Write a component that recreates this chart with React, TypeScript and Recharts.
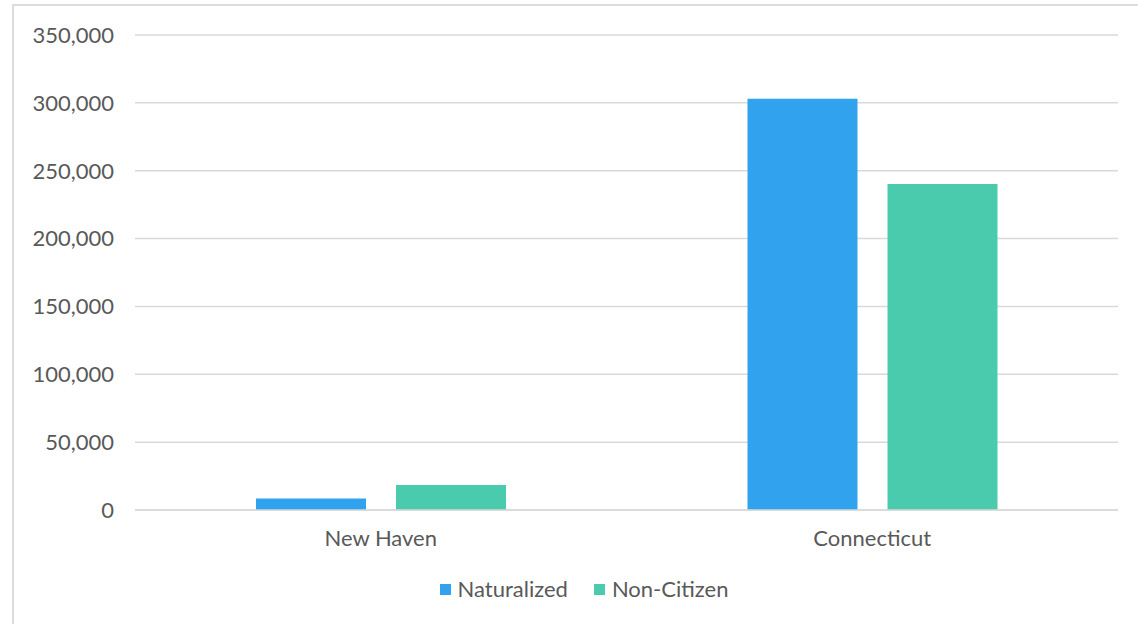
import React from "react";
import { BarChart, Bar, XAxis, YAxis, CartesianGrid, Legend } from "recharts";

const places = ["New Haven", "Connecticut"];
const naturalized = [8500, 303000];
const nonCitizen = [18400, 240300];
const yTicks = [0, 50000, 100000, 150000, 200000, 250000, 300000, 350000];

const BLUE = "#31a3ee";
const GREEN = "#4bcbae";
const TEXT = "#595959";
const FONT = "Lato, 'Open Sans', sans-serif";
const FS = 22;

const data = places.map((place, i) => ({
  place,
  Naturalized: naturalized[i],
  "Non-Citizen": nonCitizen[i],
}));

function LegendBox() {
  const items = [
    { name: "Naturalized", color: BLUE },
    { name: "Non-Citizen", color: GREEN },
  ];
  return (
    <div style={{ display: "flex", justifyContent: "center", gap: 26, fontFamily: FONT, fontSize: FS, color: TEXT, lineHeight: "26px", paddingLeft: 30 }}>
      {items.map((it) => (
        <div key={it.name} style={{ display: "flex", alignItems: "center", gap: 7 }}>
          <span style={{ width: 11, height: 11, background: it.color, display: "inline-block" }} />
          <span>{it.name}</span>
        </div>
      ))}
    </div>
  );
}

export default function App() {
  return (
    <div style={{ position: "absolute", left: 0, top: 0, width: 1138, height: 624, overflow: "hidden", background: "#fff" }}>
      <div
        style={{
          position: "absolute",
          left: 12,
          top: 4,
          width: 1200,
          height: 700,
          border: "2px solid #dcdcdc",
        }}
      />
      <div style={{ position: "absolute", left: 0, top: 0 }}>
        <BarChart
          width={1138}
          height={624}
          data={data}
          margin={{ top: 35, right: 20, left: 0, bottom: 64 }}
          barGap={30}
          barSize={110}
        >
          <CartesianGrid vertical={false} stroke="#d9d9d9" strokeWidth={1.5} />
          <XAxis
            dataKey="place"
            height={50}
            tickLine={false}
            tickSize={0}
            tickMargin={20}
            axisLine={{ stroke: "#d9d9d9", strokeWidth: 1.5 }}
            tick={{ fill: TEXT, fontSize: FS, fontFamily: FONT }}
          />
          <YAxis
            width={135}
            domain={[0, 350000]}
            ticks={yTicks}
            interval={0}
            axisLine={false}
            tickLine={false}
            tickSize={0}
            tickMargin={21}
            tickFormatter={(v: number) => v.toLocaleString("en-US")}
            tick={{ fill: TEXT, fontSize: FS, fontFamily: FONT }}
          />
          <Legend
            layout="horizontal"
            verticalAlign="middle"
            align="center"
            wrapperStyle={{ top: 576, left: 0, width: 1138 }}
            content={() => <LegendBox />}
          />
          <Bar dataKey="Naturalized" fill={BLUE} isAnimationActive={false} />
          <Bar dataKey="Non-Citizen" fill={GREEN} isAnimationActive={false} />
        </BarChart>
      </div>
    </div>
  );
}
